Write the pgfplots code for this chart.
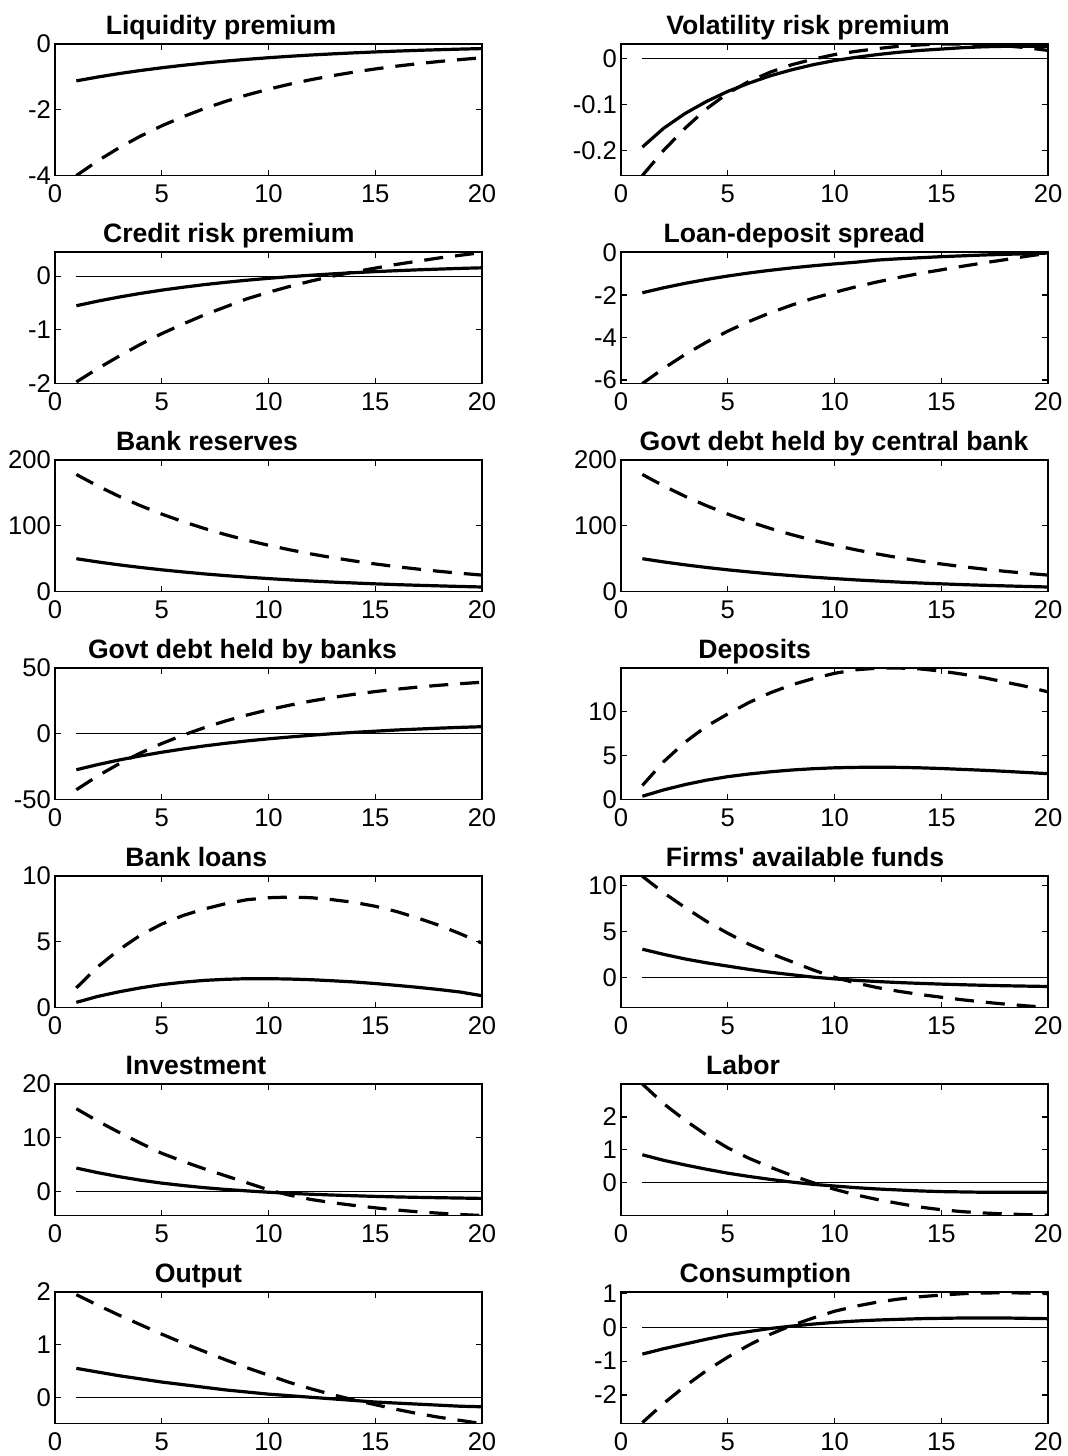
\documentclass[border=0pt]{standalone}
\usepackage{fontspec}
\setmainfont{Liberation Sans}
\usepackage{pgfplots}
\usepackage{pgfplotstable}
\pgfplotsset{compat=1.18}
\newcommand\tk{\fontsize{12.8}{14}\selectfont}
\newcommand\ttl{\fontsize{13.3}{15}\selectfont\bfseries}

\pgfplotstableread{
t s d
1 -1.120 -4.000
2 -1.004 -3.552
3 -0.899 -3.154
4 -0.806 -2.801
5 -0.722 -2.487
6 -0.647 -2.209
7 -0.579 -1.961
8 -0.519 -1.742
9 -0.465 -1.547
10 -0.417 -1.373
11 -0.373 -1.219
12 -0.334 -1.083
13 -0.300 -0.962
14 -0.269 -0.854
15 -0.241 -0.758
16 -0.216 -0.673
17 -0.193 -0.598
18 -0.173 -0.531
19 -0.155 -0.472
20 -0.139 -0.419
}\dA
\pgfplotstableread{
t s d
1 -0.193 -0.255
2 -0.152 -0.200
3 -0.120 -0.152
4 -0.094 -0.110
5 -0.072 -0.076
6 -0.054 -0.050
7 -0.038 -0.030
8 -0.025 -0.014
9 -0.014 -0.002
10 -0.005 0.008
11 0.002 0.015
12 0.008 0.021
13 0.013 0.026
14 0.017 0.029
15 0.020 0.031
16 0.023 0.031
17 0.025 0.030
18 0.026 0.027
19 0.026 0.023
20 0.026 0.017
}\dB
\pgfplotstableread{
t s d
1 -0.550 -1.97
2 -0.465 -1.72
3 -0.389 -1.49
4 -0.321 -1.27
5 -0.260 -1.07
6 -0.206 -0.89
7 -0.157 -0.72
8 -0.114 -0.57
9 -0.075 -0.42
10 -0.040 -0.30
11 -0.009 -0.19
12 0.018 -0.09
13 0.043 0.00
14 0.065 0.08
15 0.085 0.15
16 0.102 0.22
17 0.118 0.28
18 0.132 0.34
19 0.145 0.39
20 0.156 0.44
}\dC
\pgfplotstableread{
t s d
1 -1.890 -6.17
2 -1.655 -5.45
3 -1.447 -4.80
4 -1.264 -4.22
5 -1.101 -3.70
6 -0.958 -3.24
7 -0.830 -2.83
8 -0.718 -2.47
9 -0.618 -2.15
10 -0.530 -1.87
11 -0.451 -1.61
12 -0.350 -1.38
13 -0.290 -1.17
14 -0.240 -0.98
15 -0.190 -0.81
16 -0.150 -0.64
17 -0.110 -0.48
18 -0.080 -0.33
19 -0.050 -0.17
20 -0.020 -0.03
}\dD
\pgfplotstableread{
t s d
1 50.0 178.0
2 45.1 160.6
3 40.7 144.8
4 36.7 130.6
5 33.1 117.8
6 29.9 106.3
7 26.9 95.9
8 24.3 86.5
9 21.9 78.0
10 19.8 70.4
11 17.8 63.5
12 16.1 57.2
13 14.5 51.6
14 13.1 46.6
15 11.8 42.0
16 10.6 37.9
17 9.6 34.2
18 8.7 30.8
19 7.8 27.8
20 7.0 25.1
}\dE
\pgfplotstableread{
t s d
1 50.0 178.0
2 45.1 160.6
3 40.7 144.8
4 36.7 130.6
5 33.1 117.8
6 29.9 106.3
7 26.9 95.9
8 24.3 86.5
9 21.9 78.0
10 19.8 70.4
11 17.8 63.5
12 16.1 57.2
13 14.5 51.6
14 13.1 46.6
15 11.8 42.0
16 10.6 37.9
17 9.6 34.2
18 8.7 30.8
19 7.8 27.8
20 7.0 25.1
}\dF
\pgfplotstableread{
t s d
1 -27.3 -42.5
2 -23.4 -32.0
3 -19.9 -22.8
4 -16.8 -14.6
5 -14.0 -7.4
6 -11.5 -1.0
7 -9.2 4.7
8 -7.2 9.8
9 -5.4 14.3
10 -3.8 18.3
11 -2.4 21.8
12 -1.1 24.9
13 0.1 27.6
14 1.1 30.0
15 2.0 32.1
16 2.9 33.9
17 3.6 35.5
18 4.3 36.9
19 4.9 38.1
20 5.4 39.2
}\dG
\pgfplotstableread{
t s d
1 0.38 1.6
2 1.10 4.3
3 1.70 6.5
4 2.20 8.3
5 2.60 9.7
6 2.90 11.0
7 3.15 12.1
8 3.35 13.0
9 3.50 13.7
10 3.60 14.3
11 3.65 14.7
12 3.67 14.88
13 3.65 14.9
14 3.60 14.8
15 3.52 14.55
16 3.42 14.2
17 3.32 13.8
18 3.20 13.3
19 3.07 12.8
20 2.94 12.2
}\dH
\pgfplotstableread{
t s d
1 0.40 1.5
2 0.85 3.1
3 1.20 4.4
4 1.50 5.5
5 1.75 6.35
6 1.93 7.0
7 2.07 7.5
8 2.15 7.9
9 2.20 8.2
10 2.20 8.35
11 2.17 8.4
12 2.12 8.35
13 2.04 8.2
14 1.95 8.0
15 1.83 7.7
16 1.69 7.3
17 1.54 6.8
18 1.37 6.25
19 1.18 5.6
20 0.90 4.9
}\dI
\pgfplotstableread{
t s d
1 3.06 11.0
2 2.50 9.2
3 2.00 7.6
4 1.58 6.1
5 1.22 4.8
6 0.86 3.6
7 0.55 2.6
8 0.28 1.7
9 0.02 0.8
10 -0.17 0.0
11 -0.33 -0.62
12 -0.46 -1.12
13 -0.57 -1.52
14 -0.66 -1.87
15 -0.74 -2.17
16 -0.81 -2.45
17 -0.87 -2.70
18 -0.92 -2.92
19 -0.96 -3.11
20 -1.00 -3.28
}\dJ
\pgfplotstableread{
t s d
1 4.35 15.4
2 3.50 13.1
3 2.75 11.0
4 2.10 9.0
5 1.55 7.1
6 1.10 5.6
7 0.70 4.2
8 0.37 2.9
9 0.10 1.6
10 -0.15 0.3
11 -0.35 -0.7
12 -0.52 -1.5
13 -0.67 -2.1
14 -0.80 -2.6
15 -0.92 -3.05
16 -1.02 -3.45
17 -1.10 -3.8
18 -1.17 -4.05
19 -1.23 -4.3
20 -1.30 -4.48
}\dK
\pgfplotstableread{
t s d
1 0.85 3.0
2 0.68 2.4
3 0.54 1.9
4 0.41 1.45
5 0.29 1.06
6 0.19 0.74
7 0.10 0.47
8 0.02 0.22
9 -0.05 0.0
10 -0.10 -0.2
11 -0.15 -0.37
12 -0.19 -0.51
13 -0.22 -0.63
14 -0.25 -0.74
15 -0.27 -0.82
16 -0.28 -0.88
17 -0.29 -0.92
18 -0.29 -0.95
19 -0.29 -0.97
20 -0.29 -0.99
}\dL
\pgfplotstableread{
t s d
1 0.55 1.95
2 0.48 1.75
3 0.41 1.56
4 0.35 1.38
5 0.29 1.20
6 0.24 1.03
7 0.19 0.87
8 0.14 0.71
9 0.10 0.56
10 0.06 0.42
11 0.03 0.28
12 0.00 0.16
13 -0.03 0.05
14 -0.06 -0.05
15 -0.09 -0.14
16 -0.11 -0.23
17 -0.13 -0.31
18 -0.15 -0.38
19 -0.17 -0.44
20 -0.18 -0.50
}\dM
\pgfplotstableread{
t s d
1 -0.79 -2.82
2 -0.63 -2.25
3 -0.49 -1.74
4 -0.35 -1.28
5 -0.22 -0.88
6 -0.12 -0.52
7 -0.03 -0.20
8 0.04 0.06
9 0.10 0.28
10 0.15 0.48
11 0.19 0.63
12 0.22 0.75
13 0.24 0.84
14 0.26 0.91
15 0.27 0.96
16 0.28 1.00
17 0.28 1.02
18 0.28 1.03
19 0.27 1.02
20 0.26 1.00
}\dN

\pgfplotsset{
  irf/.style={
    scale only axis, width=213.5pt, height=65.8pt, anchor=north west,
    xmin=0, xmax=20, xtick={0,5,10,15,20}, xticklabels={0,5,10,15,20},
    tick align=inside, major tick length=2.8pt,
    axis line style={line width=0.8pt},
    every tick/.style={black, line width=0.6pt},
    ticklabel style={font=\tk},
    xticklabel style={yshift=-1.2pt},
    yticklabel style={xshift=1.5pt},
    every axis title/.style={at={(0.5,1)}, anchor=base, yshift=4.7pt, font=\ttl},
    scaled y ticks=false,
  },
  zl/.style={black, line width=0.6pt},
  sl/.style={black, line width=1.6pt},
  dl/.style={black, line width=1.6pt, dash pattern=on 9.5pt off 6pt},
}
\newcommand\pl[1]{%
  \addplot[zl] coordinates {(1,0) (20,0)};
  \addplot[sl] table[x=t,y=s]{#1};
  \addplot[dl] table[x=t,y=d]{#1};}

\begin{document}
\begin{tikzpicture}
\path[use as bounding box] (0,0) rectangle (534pt,-728pt);
% row 1
\begin{axis}[irf, at={(27.5pt,-22pt)}, ymin=-4, ymax=0, ytick={-4,-2,0}, yticklabels={-4,-2,0},
  title={Liquidity premium}, title style={at={(0.389,1)}}]
\pl{\dA}
\end{axis}
\begin{axis}[irf, at={(310.5pt,-22pt)}, ymin=-0.255, ymax=0.031, ytick={-0.2,-0.1,0}, yticklabels={-0.2,-0.1,0},
  title={Volatility risk premium}, title style={at={(0.438,1)}}]
\pl{\dB}
\end{axis}
% row 2
\begin{axis}[irf, at={(27.5pt,-126pt)}, ymin=-2, ymax=0.45, ytick={-2,-1,0}, yticklabels={-2,-1,0},
  title={Credit risk premium}, title style={at={(0.407,1)}}]
\pl{\dC}
\end{axis}
\begin{axis}[irf, at={(310.5pt,-126pt)}, ymin=-6.17, ymax=0.03, ytick={-6,-4,-2,0}, yticklabels={-6,-4,-2,0},
  title={Loan-deposit spread}, title style={at={(0.406,1)}}]
\pl{\dD}
\end{axis}
% row 3
\begin{axis}[irf, at={(27.5pt,-230pt)}, ymin=0, ymax=200, ytick={0,100,200}, yticklabels={0,100,200},
  title={Bank reserves}, title style={at={(0.356,1)}}]
\pl{\dE}
\end{axis}
\begin{axis}[irf, at={(310.5pt,-230pt)}, ymin=0, ymax=200, ytick={0,100,200}, yticklabels={0,100,200},
  title={Govt debt held by central bank}, title style={at={(0.499,1)}}]
\pl{\dF}
\end{axis}
% row 4
\begin{axis}[irf, at={(27.5pt,-334pt)}, ymin=-50, ymax=50, ytick={-50,0,50}, yticklabels={-50,0,50},
  title={Govt debt held by banks}, title style={at={(0.439,1)}}]
\pl{\dG}
\end{axis}
\begin{axis}[irf, at={(310.5pt,-334pt)}, ymin=0, ymax=14.9, ytick={0,5,10}, yticklabels={0,5,10},
  title={Deposits}, title style={at={(0.313,1)}}]
\pl{\dH}
\end{axis}
% row 5
\begin{axis}[irf, at={(27.5pt,-438pt)}, ymin=0, ymax=10, ytick={0,5,10}, yticklabels={0,5,10},
  title={Bank loans}, title style={at={(0.331,1)}}]
\pl{\dI}
\end{axis}
\begin{axis}[irf, at={(310.5pt,-438pt)}, ymin=-3.3, ymax=11.03, ytick={0,5,10}, yticklabels={0,5,10},
  title={Firms\textquotesingle{} available funds}, title style={at={(0.431,1)}}]
\pl{\dJ}
\end{axis}
% row 6
\begin{axis}[irf, at={(27.5pt,-542pt)}, ymin=-4.5, ymax=20, ytick={0,10,20}, yticklabels={0,10,20},
  title={Investment}, title style={at={(0.330,1)}}]
\pl{\dK}
\end{axis}
\begin{axis}[irf, at={(310.5pt,-542pt)}, ymin=-1.0, ymax=3.0, ytick={0,1,2}, yticklabels={0,1,2},
  title={Labor}, title style={at={(0.286,1)}}]
\pl{\dL}
\end{axis}
% row 7
\begin{axis}[irf, at={(27.5pt,-646pt)}, ymin=-0.5, ymax=2, ytick={0,1,2}, yticklabels={0,1,2},
  title={Output}, title style={at={(0.336,1)}}]
\pl{\dM}
\end{axis}
\begin{axis}[irf, at={(310.5pt,-646pt)}, ymin=-2.85, ymax=1.05, ytick={-2,-1,0,1}, yticklabels={-2,-1,0,1},
  title={Consumption}, title style={at={(0.338,1)}}]
\pl{\dN}
\end{axis}
\end{tikzpicture}
\end{document}
